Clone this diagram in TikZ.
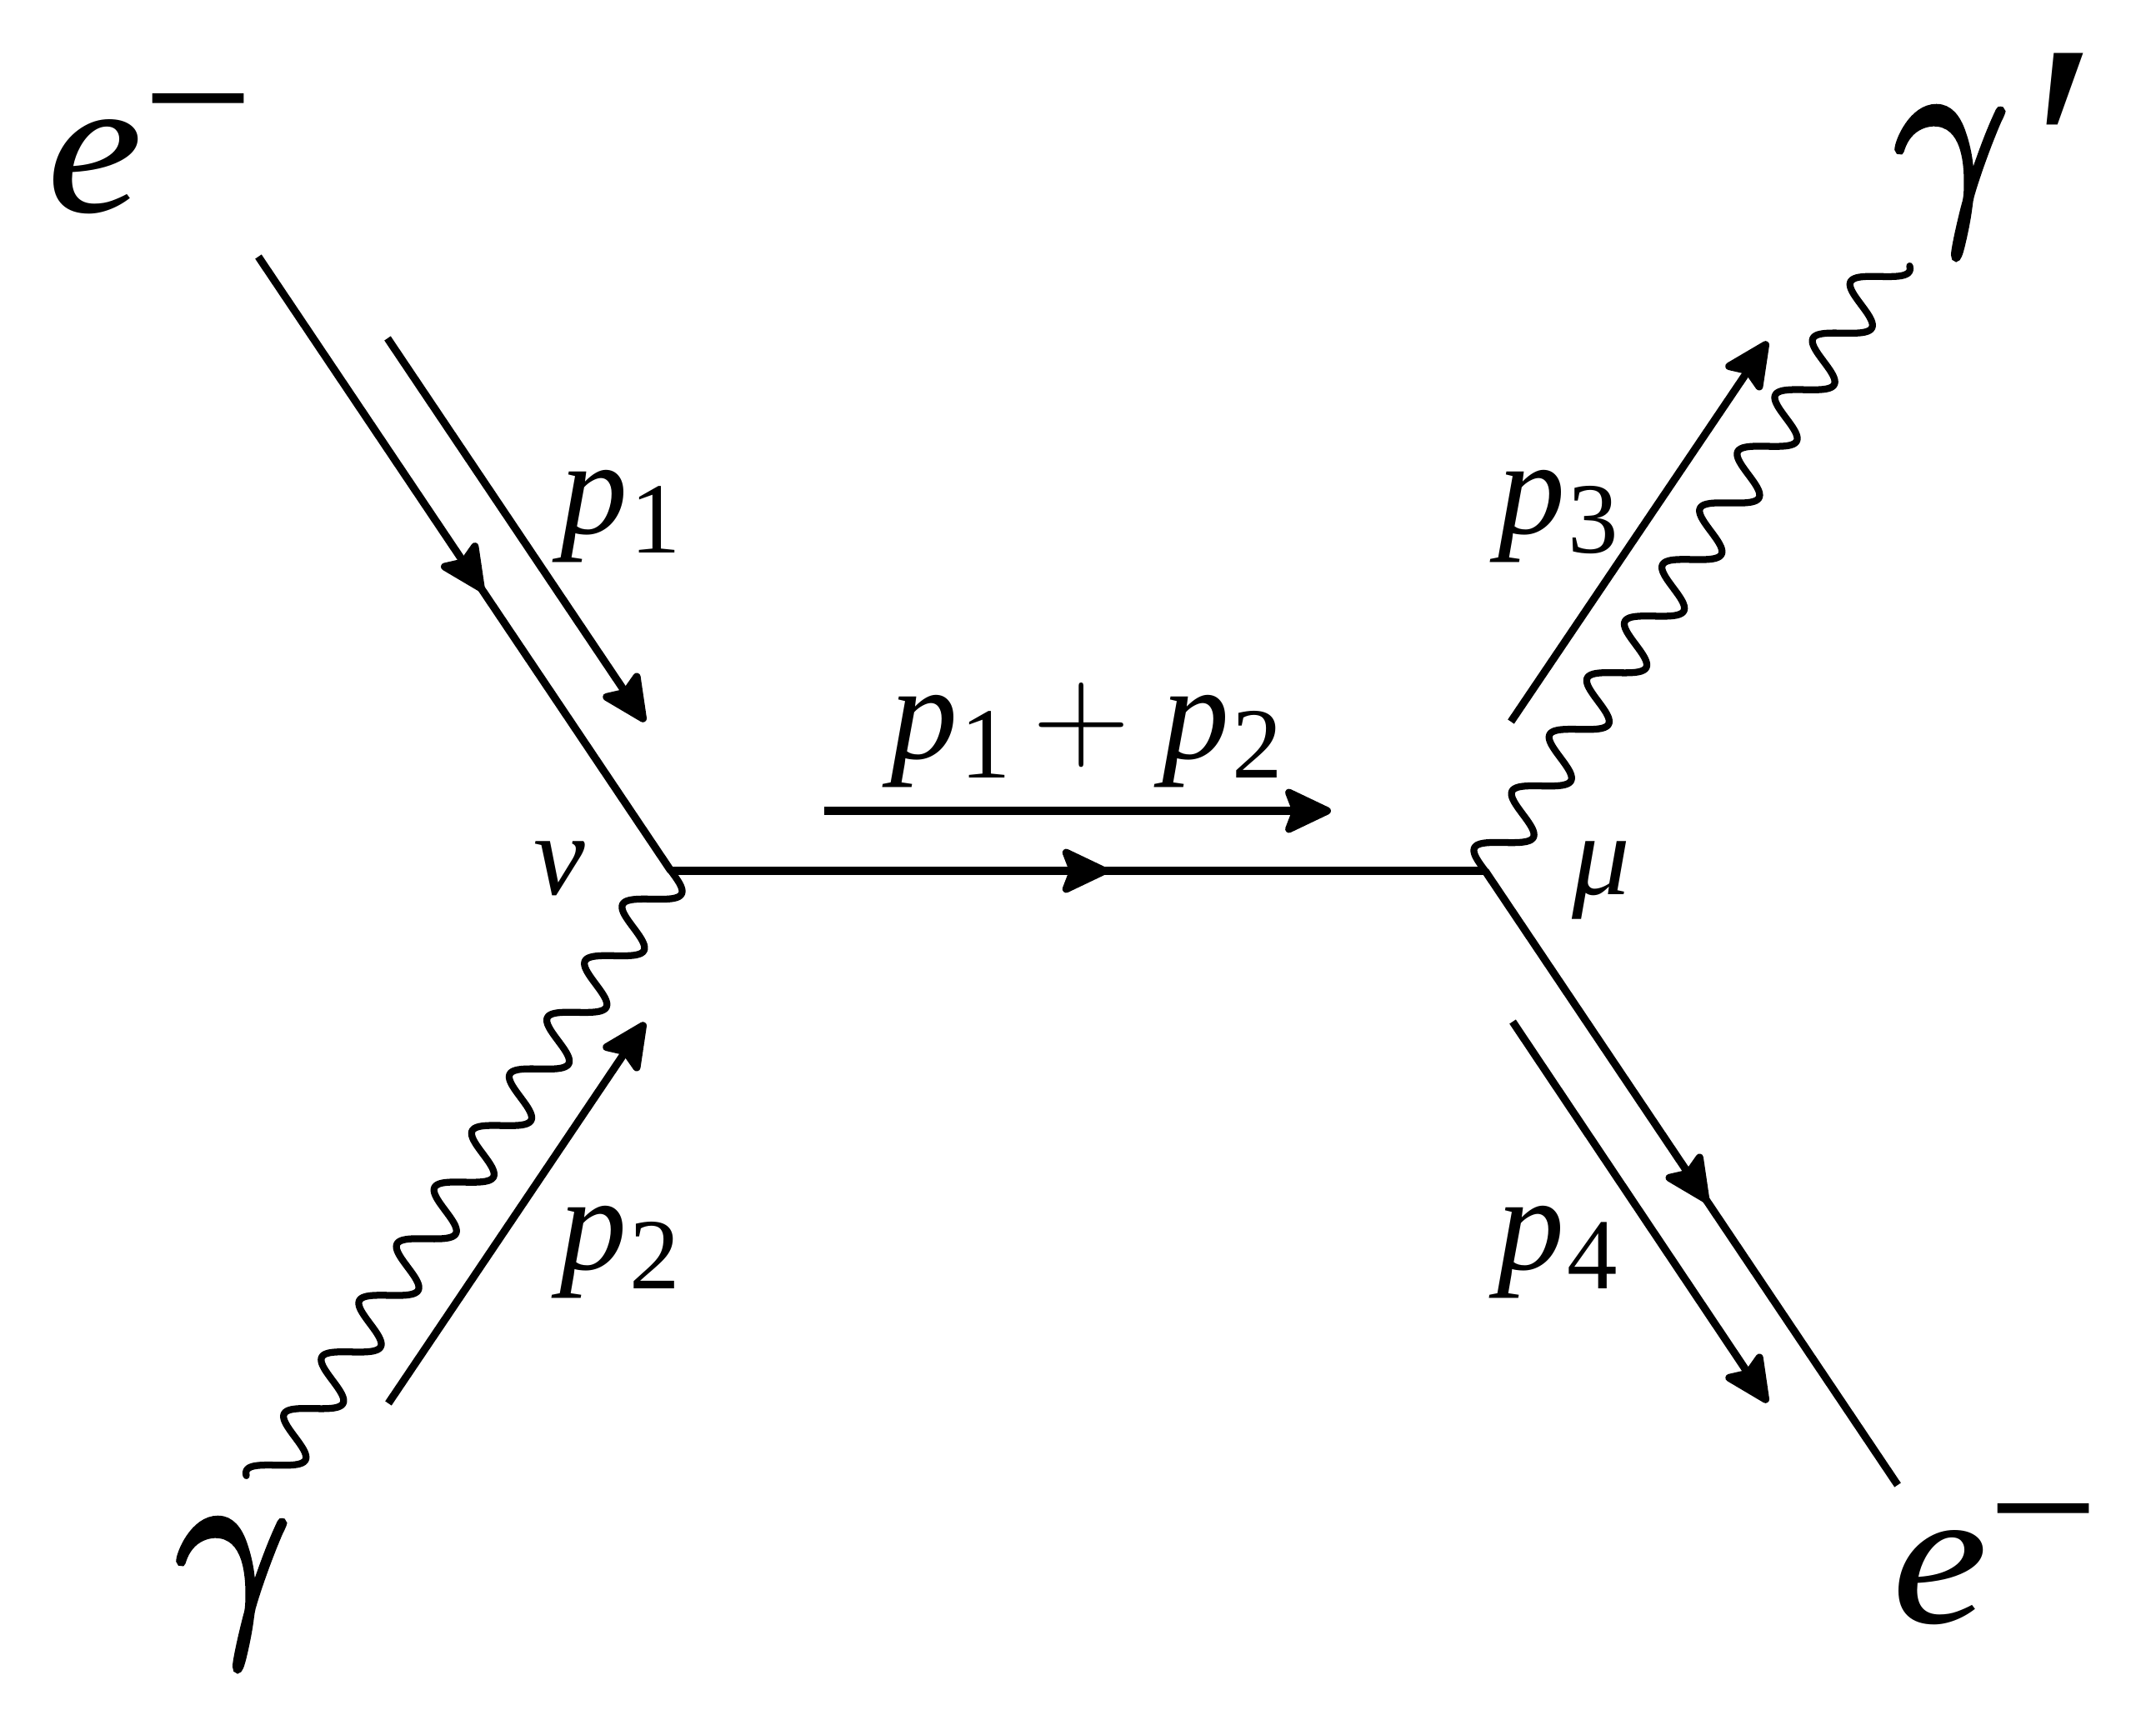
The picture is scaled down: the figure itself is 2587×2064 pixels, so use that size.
\documentclass[tikz,border=0pt]{standalone}
\usepackage{fontspec}
\setmainfont{Liberation Serif}
\newfontfamily\lmrfont{Latin Modern Roman}
\newfontfamily\lmmath[FakeBold=2.5]{Latin Modern Math}
\usetikzlibrary{arrows.meta,decorations,decorations.markings}

% photon wave parameters (pt); 1px = 0.01cm = 0.28453pt
\newcommand\phP{23.19}
\newcommand\phA{7.40}
\newcommand\phK{-0.14}
\newcommand\phS{0.4}
\pgfdeclaredecoration{photonwave}{wave}{%
  \state{wave}[width=0.4pt, next state=wave, switch if less than=0.4pt to final]{%
    \pgfmathsetmacro\phT{(\pgfdecoratedcompleteddistance+\phS)/\phP}%
    \pgfmathsetmacro\phY{\phA*sin(\phT*360)}%
    \pgfmathsetmacro\phX{\phS+\phK*\phY}%
    \pgfpathlineto{\pgfpoint{\phX pt}{\phY pt}}%
  }%
  \state{final}{}%
}

\newcommand\fbig{\fontsize{67pt}{70pt}\selectfont}
\newcommand\fgam{\fontsize{79pt}{80pt}\selectfont}
\newcommand\fmid{\fontsize{46pt}{48pt}\selectfont}
\newcommand\fsub{\fontsize{34.4pt}{36pt}\selectfont}
\newcommand\fsupm{\fontsize{67pt}{68pt}\selectfont}
\newcommand\fprime{\fontsize{104pt}{104pt}\selectfont}
\newcommand\fvtx{\fontsize{39.5pt}{41pt}\selectfont}
\newcommand\mom[1]{{\itshape p}\hspace{1pt}\raisebox{-6.8pt}{\fsub #1}}
\newcommand\elec{{\fbig\itshape\scalebox{1.1}[1]{e}\raisebox{16.6pt}{\upshape\fsupm −}}}
\newcommand\gam{\scalebox{0.87}[1]{\fgam\lmmath 𝛾}}

\tikzset{
  lbl/.style={inner sep=0pt, outer sep=0pt},
  tipA/.tip={Stealth[length=0.64cm,width=0.60cm,inset=0.11cm,round]},
  ln/.style={line width=2.6pt},
  fermion/.style={ln, postaction={decorate, decoration={markings, mark=at position #1 with {\arrow{tipA}}}}},
  momentum/.style={ln, -{tipA}},
  photon/.style={line width=2.35pt, line join=round, line cap=round, decorate, decoration={photonwave}},
}

\begin{document}
\begin{tikzpicture}[x=0.01cm,y=-0.01cm]
\path[use as bounding box] (0,0) rectangle (2587,2064);

% vertices and line ends
\coordinate (v1) at (805,1045);
\coordinate (v2) at (1782,1045);
\coordinate (ein) at (310,308);
\coordinate (eout) at (2277,1782);
\coordinate (gin) at (316,1781);
\coordinate (gout) at (2271,309);

% momentum arrows ends
\coordinate (p1s) at (465,406);  \coordinate (p1e) at (774,866);
\coordinate (p2s) at (466,1684); \coordinate (p2e) at (774,1227);
\coordinate (p3s) at (1813,866); \coordinate (p3e) at (2121,410);
\coordinate (p4s) at (1815,1226);\coordinate (p4e) at (2121,1683);
\coordinate (pqs) at (989,973);  \coordinate (pqe) at (1597,973);

% lines
\draw[fermion=0.545] (ein) -- (v1);
\draw[fermion=0.537] (v1) -- (v2);
\draw[fermion=0.54] (v2) -- (eout);
\draw[photon] (v1) -- (gin);
\draw[photon] (v2) -- (gout);

\draw[momentum] (p1s) -- (p1e);
\draw[momentum] (p2s) -- (p2e);
\draw[momentum] (p3s) -- (p3e);
\draw[momentum] (p4s) -- (p4e);
\draw[momentum] (pqs) -- (pqe);

% labels
\node[lbl, anchor=base west] (eTL) at (56,255) {\elec};
\node[lbl, anchor=base west] (eBR) at (2270,1947) {\elec};
\node[lbl, anchor=base west] (gL) at (210,1945) {\gam};
\node[lbl, anchor=base west] (gR) at (2272,251) {\gam\hspace{5.2pt}\raisebox{-15pt}{\fprime\itshape ′}};

\node[lbl, anchor=base west] (lp1) at (672,640) {\fmid\mom{1}};
\node[lbl, anchor=base west] (lp2) at (671,1523) {\fmid\mom{2}};
\node[lbl, anchor=base west] (lp3) at (1797,640) {\fmid\mom{3}};
\node[lbl, anchor=base west] (lp4) at (1796,1523) {\fmid\mom{4}};
\node[lbl, anchor=base west] (lpq) at (1068,910) {\fmid\mom{1}\hspace{7.7pt}{\lmrfont +}\hspace{10.8pt}\mom{2}};

\node[lbl, anchor=base west] (nu) at (640,1073) {\fvtx\itshape ν};
\node[lbl, anchor=base west] (mu) at (1886,1073) {\fvtx\itshape μ};
\end{tikzpicture}
\end{document}
